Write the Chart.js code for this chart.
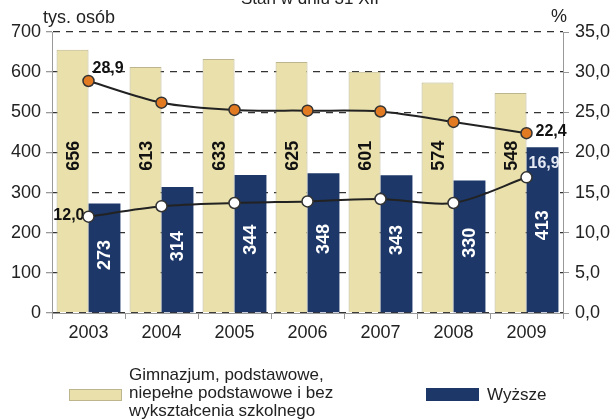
<!DOCTYPE html>
<html>
<head>
<meta charset="utf-8">
<script src="https://cdn.jsdelivr.net/npm/chart.js@4"></script>
<style>
    body { margin: 0; background: #fff; }
</style>
</head>
<body>
<canvas id="edu-chart" width="612" height="419"></canvas>
<script>
// Years on the x axis
let years = ['2003', '2004', '2005', '2006', '2007', '2008', '2009']
// Unemployed in thousands (left axis)
let lowerEducation = [656, 613, 633, 625, 601, 574, 548]
let higherEducation = [273, 314, 344, 348, 343, 330, 413]
// Share in percent (right axis)
let lowerShare = [28.9, 26.2, 25.3, 25.2, 25.1, 23.8, 22.4]
let higherShare = [12.0, 13.3, 13.7, 13.9, 14.2, 13.7, 16.9]
// Axis limits
let leftMax = 700
let leftStep = 100
let rightMax = 35
let rightStep = 5

let title = 'Stan w dniu 31 XII'
let leftTitle = 'tys. osób'
let rightTitle = '%'
let legendLower = ['Gimnazjum, podstawowe,', 'niepełne podstawowe i bez', 'wykształcenia szkolnego']
let legendHigher = 'Wyższe'

let fontName = "'Liberation Sans', Arial, sans-serif"
let beige = '#e9e0ab'
let beigeBorder = '#bdb58c'
let navy = '#1c3768'
let orange = '#e27a22'

// turn 28.9 into "28,9"
function pl(v) {
    return v.toFixed(1).replace('.', ',')
}

// Draws value labels on the bars and on the end points of the lines
let labelPlugin = {
    id: 'labels',
    afterDatasetDraw(chart, args) {
        // bars are drawn before the lines, so draw the labels once the last bar set is done
        if (args.index !== 0) return
        let ctx = chart.ctx
        let y = chart.scales.y
        let y2 = chart.scales.y2
        ctx.save()
        ctx.font = 'bold 18px ' + fontName
        ctx.textAlign = 'center'
        ctx.textBaseline = 'middle'

        // rotated numbers inside the bars
        chart.getDatasetMeta(0).data.forEach(function(bar, i) {
            ctx.save()
            ctx.translate(bar.x, y.getPixelForValue(392))
            ctx.rotate(-Math.PI / 2)
            ctx.fillStyle = '#111'
            ctx.fillText(lowerEducation[i], 0, 1)
            ctx.restore()
        })
        chart.getDatasetMeta(1).data.forEach(function(bar, i) {
            ctx.save()
            ctx.translate(bar.x, y.getPixelForValue(higherEducation[i] * 0.53))
            ctx.rotate(-Math.PI / 2)
            ctx.fillStyle = '#fff'
            ctx.fillText(higherEducation[i], 0, 1)
            ctx.restore()
        })

        // first and last values of the lines
        let x = chart.scales.x
        let last = years.length - 1
        ctx.font = 'bold 16px ' + fontName
        ctx.fillStyle = '#111'
        ctx.textAlign = 'left'
        ctx.fillText(pl(lowerShare[0]), x.getPixelForValue(0) + 4, y2.getPixelForValue(lowerShare[0]) - 12)
        ctx.fillText(pl(lowerShare[last]), x.getPixelForValue(last) + 9, y2.getPixelForValue(lowerShare[last]) - 2)
        ctx.textAlign = 'right'
        ctx.fillText(pl(higherShare[0]), x.getPixelForValue(0) - 4, y2.getPixelForValue(higherShare[0]) - 1)
        ctx.fillStyle = '#e4e9f4'
        ctx.textAlign = 'left'
        ctx.fillText(pl(higherShare[last]), x.getPixelForValue(last) + 2, y2.getPixelForValue(higherShare[last]) - 14)
        ctx.restore()
    },
    afterDraw(chart) {
        let ctx = chart.ctx
        ctx.save()
        ctx.fillStyle = '#222'
        ctx.font = '17px ' + fontName
        // title sits mostly above the picture
        ctx.textAlign = 'center'
        ctx.textBaseline = 'alphabetic'
        ctx.fillText(title, 310, 4)
        // axis titles
        ctx.font = '18px ' + fontName
        ctx.textAlign = 'left'
        ctx.textBaseline = 'middle'
        ctx.fillText(leftTitle, 43, 18)
        ctx.fillText(rightTitle, 551, 17)
        // legend
        ctx.font = '17px ' + fontName
        ctx.fillStyle = beige
        ctx.fillRect(69, 389, 53, 12)
        ctx.strokeStyle = beigeBorder
        ctx.lineWidth = 1
        ctx.strokeRect(69.5, 389.5, 52, 11)
        ctx.fillStyle = '#222'
        legendLower.forEach(function(line, i) {
            ctx.fillText(line, 129, 375 + i * 18)
        })
        ctx.fillStyle = navy
        ctx.fillRect(426, 388, 53, 13)
        ctx.fillStyle = '#222'
        ctx.fillText(legendHigher, 487, 395)
        ctx.restore()
    }
}

let ctx = document.querySelector('#edu-chart').getContext('2d')

let eduChart = new Chart(ctx, {
    type: 'bar',
    data: {
        labels: years,
        datasets: [
            {
                data: lowerEducation,
                backgroundColor: beige,
                borderColor: beigeBorder,
                borderWidth: 1,
                categoryPercentage: 0.875,
                barPercentage: 1,
                order: 1
            },
            {
                data: higherEducation,
                backgroundColor: navy,
                categoryPercentage: 0.875,
                barPercentage: 1,
                order: 1
            },
            {
                type: 'line',
                data: lowerShare,
                yAxisID: 'y2',
                borderColor: '#222',
                borderWidth: 2,
                tension: 0.3,
                pointRadius: 5.5,
                pointBackgroundColor: orange,
                pointBorderColor: '#333',
                pointBorderWidth: 1.5,
                order: 0
            },
            {
                type: 'line',
                data: higherShare,
                yAxisID: 'y2',
                borderColor: '#222',
                borderWidth: 2,
                tension: 0.3,
                pointRadius: 5.5,
                pointBackgroundColor: '#fff',
                pointBorderColor: '#333',
                pointBorderWidth: 1.5,
                order: 0
            }
        ]
    },
    options: {
        responsive: false,
        animation: false,
        layout: { padding: { top: 32 } },
        plugins: {
            legend: { display: false },
            tooltip: { enabled: false }
        },
        scales: {
            x: {
                grid: { offset: true, drawOnChartArea: false, tickLength: 6, tickColor: '#999' },
                border: { color: '#999' },
                ticks: { color: '#222', font: { size: 18, family: fontName }, padding: 3, maxRotation: 0 },
                afterFit: function(scale) { scale.height = 106 }
            },
            y: {
                position: 'left',
                min: 0,
                max: leftMax,
                grid: { color: '#333', lineWidth: 1.3, tickLength: 6, tickColor: '#999', tickBorderDash: [] },
                border: { color: '#999', dash: [7, 6] },
                ticks: { stepSize: leftStep, color: '#222', font: { size: 18, family: fontName }, padding: 5 },
                afterFit: function(scale) { scale.width = 52 }
            },
            y2: {
                position: 'right',
                min: 0,
                max: rightMax,
                grid: { drawOnChartArea: false, tickLength: 6, tickColor: '#999' },
                border: { color: '#999' },
                ticks: {
                    stepSize: rightStep,
                    color: '#222',
                    font: { size: 18, family: fontName },
                    padding: 6,
                    callback: function(v) { return pl(v) }
                },
                afterFit: function(scale) { scale.width = 49 }
            }
        }
    },
    plugins: [labelPlugin]
})
</script>
</body>
</html>
